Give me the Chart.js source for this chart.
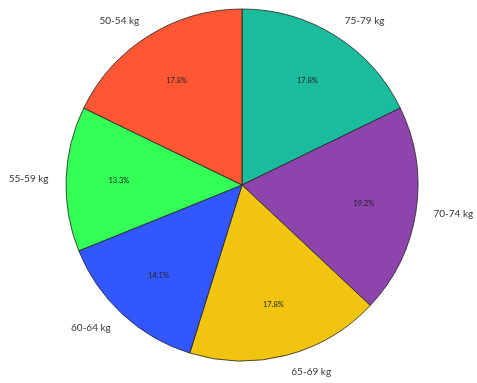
<!DOCTYPE html>
<html>
<head>
<meta charset="utf-8">
<script src="https://cdn.jsdelivr.net/npm/chart.js@4.4.1/dist/chart.umd.min.js"></script>
<style>
  html, body { margin: 0; padding: 0; background: #fff; }
  #wrap { width: 477px; height: 383px; }
</style>
</head>
<body>
<div id="wrap"><canvas id="chart"></canvas></div>
<script>
// weight groups, drawn clockwise from 12 o'clock
const weightGroups = ['75-79 kg', '70-74 kg', '65-69 kg', '60-64 kg', '55-59 kg', '50-54 kg'];
const shares = [17.8, 19.2, 17.8, 14.1, 13.3, 17.8];
const sliceColors = ['#1ABC9C', '#8E44AD', '#F1C40F', '#3357FF', '#33FF57', '#FF5733'];

const FONT = 'Lato, "DejaVu Sans", sans-serif';

// category names outside the pie, percentages inside
const pieLabels = {
    id: 'pieLabels',
    afterDatasetsDraw(chart) {
        const ctx = chart.ctx;
        const meta = chart.getDatasetMeta(0);
        const total = shares.reduce((a, b) => a + b, 0);
        ctx.save();
        meta.data.forEach((arc, i) => {
            const mid = (arc.startAngle + arc.endAngle) / 2;
            const r = arc.outerRadius;
            const cos = Math.cos(mid), sin = Math.sin(mid);

            ctx.textBaseline = 'middle';
            ctx.font = '10px ' + FONT;
            ctx.fillStyle = '#333';
            ctx.textAlign = cos >= 0 ? 'left' : 'right';
            ctx.fillText(weightGroups[i], arc.x + cos * r * 1.1, arc.y + sin * r * 1.1);

            ctx.font = '7.5px ' + FONT;
            ctx.fillStyle = '#222';
            ctx.textAlign = 'center';
            const pct = (shares[i] / total * 100).toFixed(1) + '%';
            ctx.fillText(pct, arc.x + cos * r * 0.7, arc.y + sin * r * 0.7);
        });
        ctx.restore();
    }
};

new Chart(document.getElementById('chart'), {
    type: 'pie',
    data: {
        labels: weightGroups,
        datasets: [{
            data: shares,
            backgroundColor: sliceColors,
            borderColor: '#222',
            borderWidth: 0.8,
            radius: 176
        }]
    },
    options: {
        responsive: true,
        maintainAspectRatio: false,
        animation: false,
        layout: { padding: { left: 20, right: 13, top: 10, bottom: 23 } },
        plugins: {
            legend: { display: false },
            tooltip: { enabled: false }
        }
    },
    plugins: [pieLabels]
});
</script>
</body>
</html>
